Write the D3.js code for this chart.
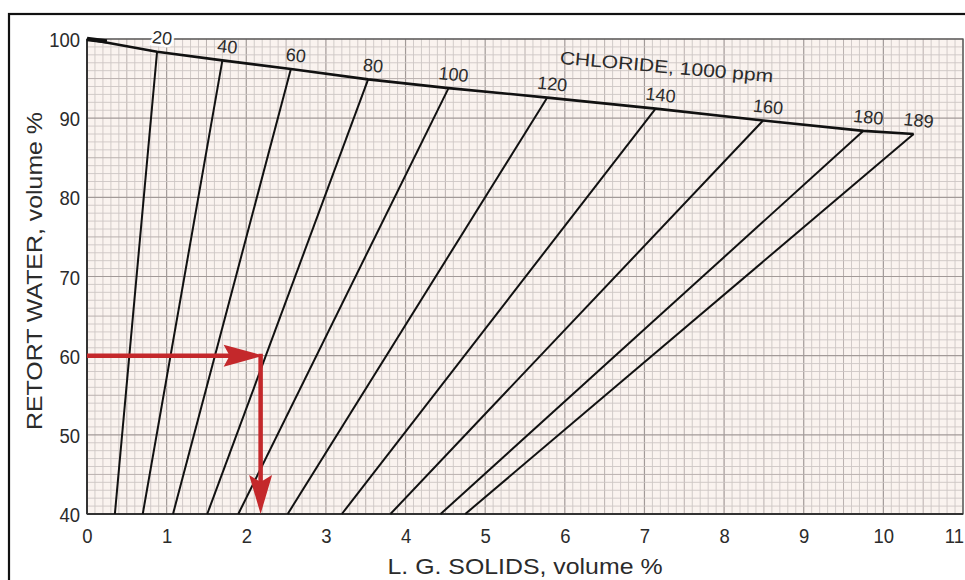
<!DOCTYPE html>
<html>
<head>
<meta charset="utf-8">
<script src="https://cdn.jsdelivr.net/npm/d3@7/dist/d3.min.js"></script>
<style>
  html, body { margin: 0; padding: 0; background: #ffffff; }
  svg { display: block; }
  .lbl { font-family: "Liberation Sans Narrow", "Arial Narrow", "Liberation Sans", Arial, sans-serif; fill: #2b2b2b; }
</style>
</head>
<body>
<svg id="chart" width="965" height="580"></svg>
<script>
// ---- data ----
const xTickValues = [0, 1, 2, 3, 4, 5, 6, 7, 8, 9, 10, 11];
const yTickValues = [40, 50, 60, 70, 80, 90, 100];
const chlorideLabels = ["20", "40", "60", "80", "100", "120", "140", "160", "180", "189"];
// points where each chloride line meets the 100%-brine boundary (solids %, water %)
const topSolids = [0.88, 1.70, 2.56, 3.53, 4.54, 5.78, 7.14, 8.49, 9.75, 10.38];
const topWater  = [98.4, 97.3, 96.2, 94.9, 93.8, 92.6, 91.2, 89.7, 88.4, 88.0];
// where each chloride line reaches 40% water
const bottomSolids = [0.35, 0.70, 1.08, 1.51, 1.90, 2.52, 3.20, 3.81, 4.44, 4.75];
const bottomWater = 40;
// boundary origin
const originSolids = 0, originWater = 100;
// worked example (red arrows)
const exampleWater = 60;
const exampleSolids = 2.18;

// ---- layout ----
const svg = d3.select("#chart");
const pLeft = 87, pRight = 963, pTop = 39, pBottom = 514;
const x = d3.scaleLinear().domain([0, 11]).range([pLeft, pRight]);
const y = d3.scaleLinear().domain([40, 100]).range([pBottom, pTop]);

// outer frame
svg.append("rect").attr("x", 9).attr("y", 14).attr("width", 1000).attr("height", 700)
  .attr("fill", "none").attr("stroke", "#111").attr("stroke-width", 2.2);

// plot background
svg.append("rect").attr("x", pLeft).attr("y", pTop).attr("width", pRight - pLeft).attr("height", pBottom - pTop)
  .attr("fill", "#faf3ef");

// grid
const g = svg.append("g");
const xMinor = d3.range(0, 111).map(i => i / 10);
const yMinor = d3.range(40, 101);
function xLevel(v) { const i = Math.round(v * 10); return i % 10 === 0 ? 2 : (i % 5 === 0 ? 1 : 0); }
function yLevel(v) { return v % 10 === 0 ? 2 : (v % 5 === 0 ? 1 : 0); }
const gridColor = ["#cdc6c4", "#b9b0ae", "#a29a98"];
const gridWidth = [0.9, 1.0, 1.2];
g.selectAll("line.vx").data(xMinor).join("line")
  .attr("x1", d => x(d)).attr("x2", d => x(d)).attr("y1", pTop).attr("y2", pBottom)
  .attr("stroke", d => gridColor[xLevel(d)]).attr("stroke-width", d => gridWidth[xLevel(d)]);
g.selectAll("line.hy").data(yMinor).join("line")
  .attr("y1", d => y(d)).attr("y2", d => y(d)).attr("x1", pLeft).attr("x2", pRight)
  .attr("stroke", d => gridColor[yLevel(d)]).attr("stroke-width", d => gridWidth[yLevel(d)]);

// plot border
svg.append("rect").attr("x", pLeft).attr("y", pTop).attr("width", pRight - pLeft).attr("height", pBottom - pTop)
  .attr("fill", "none").attr("stroke", "#555").attr("stroke-width", 1.3);
svg.append("line").attr("x1", pLeft).attr("x2", pRight).attr("y1", pBottom).attr("y2", pBottom)
  .attr("stroke", "#333").attr("stroke-width", 2);
svg.append("line").attr("x1", pLeft).attr("x2", pLeft).attr("y1", pTop).attr("y2", pBottom)
  .attr("stroke", "#333").attr("stroke-width", 2);

// axes (tick labels only, via d3 axes)
const xAxis = d3.axisBottom(x).tickValues(xTickValues).tickSize(0).tickPadding(0).tickFormat(d3.format("d"));
const xa = svg.append("g").attr("transform", `translate(0,${pBottom})`).call(xAxis);
xa.select(".domain").remove();
xa.selectAll("text").attr("class", "lbl").attr("font-size", 21).attr("dy", null).attr("y", 29)
  .attr("fill", "#333").attr("transform", "scale(0.88,1)")
  .attr("text-anchor", (d, i, n) => i === n.length - 1 ? "end" : "middle")
  .attr("x", (d, i, n) => i === n.length - 1 ? 0 : 0);
// keep the last (11) label inside the picture
xa.selectAll(".tick").filter((d, i, n) => i === n.length - 1)
  .attr("transform", `translate(${pRight + 1},0)`);

const yAxis = d3.axisLeft(y).tickValues(yTickValues).tickSize(0).tickPadding(0).tickFormat(d3.format("d"));
const ya = svg.append("g").attr("transform", `translate(${pLeft - 7},0)`).call(yAxis);
ya.select(".domain").remove();
ya.selectAll("text").attr("class", "lbl").attr("font-size", 21).attr("x", 0).attr("dy", "0.36em")
  .attr("fill", "#333").attr("transform", "scale(0.88,1)");

// axis titles
svg.append("text").attr("class", "lbl")
  .attr("transform", `translate(42,271) rotate(-90)`)
  .attr("text-anchor", "middle").attr("font-size", 22).attr("fill", "#3a3a3a")
  .attr("textLength", 318).attr("lengthAdjust", "spacingAndGlyphs")
  .text("RETORT WATER, volume %");
svg.append("text").attr("class", "lbl")
  .attr("x", 525).attr("y", 574)
  .attr("text-anchor", "middle").attr("font-size", 22).attr("fill", "#3a3a3a")
  .attr("textLength", 275).attr("lengthAdjust", "spacingAndGlyphs")
  .text("L. G. SOLIDS, volume %");

// chloride lines
const lines = chlorideLabels.map((lab, i) => ({
  lab, pts: [[topSolids[i], topWater[i]], [bottomSolids[i], bottomWater]]
}));
const lineGen = d3.line().x(d => x(d[0])).y(d => y(d[1]));
svg.append("g").selectAll("path").data(lines).join("path")
  .attr("d", d => lineGen(d.pts))
  .attr("fill", "none").attr("stroke", "#111").attr("stroke-width", 2);

// saturation boundary
const boundary = [[originSolids, originWater]].concat(topSolids.map((s, i) => [s, topWater[i]]));
svg.append("path").attr("d", lineGen(boundary))
  .attr("fill", "none").attr("stroke", "#111").attr("stroke-width", 2.6).attr("stroke-linejoin", "round");
svg.append("path")
  .attr("d", lineGen([[originSolids, originWater], [originSolids + 0.25, originWater - 0.3]]))
  .attr("stroke", "#111").attr("stroke-width", 4.5);

// chloride labels along the boundary
svg.append("g").selectAll("text").data(lines).join("text")
  .attr("class", "lbl")
  .attr("font-size", 18)
  .attr("fill", "#2b2b2b")
  .attr("text-anchor", "middle")
  .attr("dy", "0.36em")
  .attr("transform", d => `translate(${x(d.pts[0][0]) + 5},${y(d.pts[0][1]) - 14}) rotate(6)`)
  .attr("stroke", (d, i) => i === 0 ? "#ffffff" : "none")
  .attr("stroke-width", 5)
  .attr("paint-order", "stroke")
  .text(d => d.lab);

svg.append("text").attr("class", "lbl")
  .attr("transform", "translate(666,73) rotate(5)")
  .attr("text-anchor", "middle").attr("font-size", 18)
  .attr("textLength", 214).attr("lengthAdjust", "spacingAndGlyphs")
  .text("CHLORIDE, 1000 ppm");

// red example arrows
const red = "#c4282b";
const ax0 = x(0), ay = y(exampleWater), ax = x(exampleSolids), ayEnd = y(bottomWater);
const arrows = svg.append("g");
arrows.append("line").attr("x1", ax0).attr("x2", ax - 30).attr("y1", ay).attr("y2", ay)
  .attr("stroke", red).attr("stroke-width", 4.5);
arrows.append("path")
  .attr("d", `M${ax + 3},${ay} L${ax - 37},${ay - 11} L${ax - 31},${ay} L${ax - 37},${ay + 11} Z`)
  .attr("fill", red);
arrows.append("line").attr("x1", ax).attr("x2", ax).attr("y1", ay - 2).attr("y2", ayEnd - 30)
  .attr("stroke", red).attr("stroke-width", 4.5);
arrows.append("path")
  .attr("d", `M${ax},${ayEnd} L${ax - 11.5},${ayEnd - 39} L${ax},${ayEnd - 32} L${ax + 11.5},${ayEnd - 39} Z`)
  .attr("fill", red);
</script>
</body>
</html>
